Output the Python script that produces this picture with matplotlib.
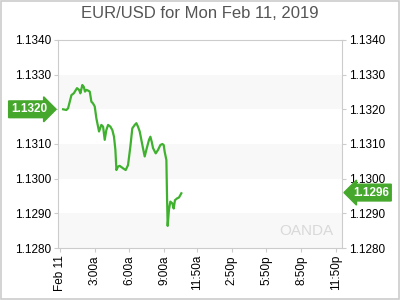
import matplotlib

matplotlib.use("Agg")
import matplotlib.pyplot as plt
from matplotlib.patches import Rectangle

# hours since midnight Feb 11 and EUR/USD price
hours = [0.29, 0.57, 0.72, 1.01, 1.21, 1.49, 1.67, 1.78, 1.95, 2.07, 2.18, 2.30,
         2.44, 2.59, 2.73, 2.87, 3.02, 3.16, 3.39, 3.59, 3.74, 3.88, 4.02, 4.17,
         4.37, 4.54, 4.68, 4.80, 4.89, 5.03, 5.17, 5.46, 5.69, 5.89, 6.09, 6.26,
         6.47, 6.61, 6.75, 6.90, 7.04, 7.18, 7.33, 7.47, 7.70, 7.82, 7.93, 8.05,
         8.28, 8.48, 8.68, 8.85, 8.97, 9.05, 9.20, 9.25, 9.31, 9.42, 9.54, 9.71,
         9.83, 9.94, 10.11, 10.29, 10.49]
prices = [1.13200, 1.13198, 1.13203, 1.13241, 1.13246, 1.13261, 1.13256, 1.13246,
          1.13270, 1.13265, 1.13251, 1.13256, 1.13254, 1.13251, 1.13222, 1.13217,
          1.13208, 1.13174, 1.13136, 1.13155, 1.13150, 1.13112, 1.13140, 1.13155,
          1.13150, 1.13140, 1.13121, 1.13083, 1.13025, 1.13035, 1.13037, 1.13030,
          1.13025, 1.13039, 1.13092, 1.13145, 1.13155, 1.13160, 1.13150, 1.13136,
          1.13112, 1.13088, 1.13064, 1.13083, 1.13112, 1.13121, 1.13107, 1.13088,
          1.13073, 1.13083, 1.13097, 1.13100, 1.13097, 1.13078, 1.13054, 1.12958,
          1.12864, 1.12910, 1.12934, 1.12929, 1.12914, 1.12938, 1.12943, 1.12946,
          1.12958]

tick_hours = [0, 3, 6, 9, 11 + 50 / 60, 14 + 50 / 60, 17 + 50 / 60, 20 + 50 / 60, 23 + 50 / 60]
tick_labels = ["Feb 11", "3:00a", "6:00a", "9:00a", "11:50a", "2:50p", "5:50p", "8:50p", "11:50p"]
y_ticks = [1.1280, 1.1290, 1.1300, 1.1310, 1.1320, 1.1330, 1.1340]
open_price = 1.1320
last_price = 1.1296

GREEN = "#3fb12f"
TAG = "#45a82c"
FRAME = "#cccccc"

plt.rcParams["font.family"] = ["Liberation Sans", "DejaVu Sans"]

fig = plt.figure(figsize=(4, 3), dpi=100)
fig.patches.append(Rectangle((0.0015, 0.002), 0.996, 0.995, transform=fig.transFigure,
                             fill=False, edgecolor=FRAME, linewidth=1.2))
ax = fig.add_axes([0.145, 0.173, 0.71, 0.694])

for low in y_ticks[:-1:2]:
    ax.axhspan(low, low + 0.001, color="#f8f8f8", zorder=0, linewidth=0)

ax.plot(hours, prices, color=GREEN, linewidth=1.6, zorder=3)

ax.set_xlim(-0.15, 24.35)
ax.set_ylim(1.1280, 1.1340)
ax.set_yticks(y_ticks)
ax.set_yticklabels([f"{v:.4f}" for v in y_ticks])
ax.set_xticks(tick_hours)
ax.set_xticklabels(tick_labels, rotation=90)
ax.tick_params(axis="y", which="both", left=True, right=True, labelleft=True,
               labelright=True, length=3, color=FRAME, labelsize=8.5, pad=2)
ax.tick_params(axis="x", length=3, color=FRAME, labelsize=8.5, pad=2)
for spine in ax.spines.values():
    spine.set_color(FRAME)

# the opening-price tag sits on top of the left 1.1320 label
ax.yaxis.get_major_ticks()[y_ticks.index(open_price)].label1.set_visible(False)

fig.suptitle("EUR/USD for Mon Feb 11, 2019", y=0.98, fontsize=12, color="#555555")

# price tags
tag_style = dict(color="white", fontsize=8.5, fontweight="bold", va="center")
ax.annotate(f"{open_price:.4f}", xy=(0, open_price), xycoords=("axes fraction", "data"),
            xytext=(-47, 0), textcoords="offset pixels", ha="left",
            bbox=dict(boxstyle="rarrow,pad=0.2", fc=TAG, ec=TAG), **tag_style)
ax.annotate(f"{last_price:.4f}", xy=(1, last_price), xycoords=("axes fraction", "data"),
            xytext=(11, 0), textcoords="offset pixels", ha="left",
            bbox=dict(boxstyle="larrow,pad=0.2", fc=TAG, ec=TAG), **tag_style)

ax.text(0.97, 0.05, "OANDA", transform=ax.transAxes, ha="right", va="bottom",
        fontsize=11, color="#d9d9d9")

fig.savefig("out.png", dpi=100)
